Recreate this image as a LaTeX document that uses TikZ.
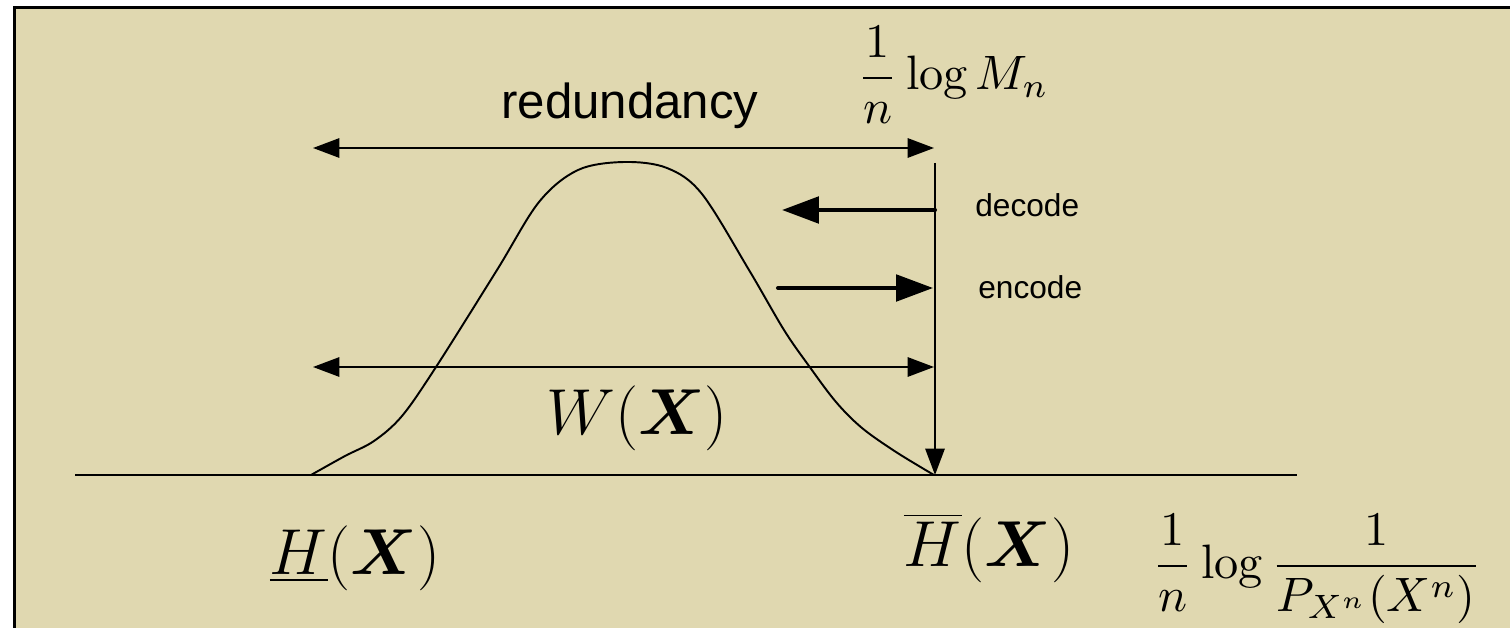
\RequirePackage{fix-cm}
\documentclass[tikz,border=0pt]{standalone}
\usepackage{amsmath,bm}
\usepackage{graphicx}
\usepackage{fontspec}
\newfontfamily\labelsans{Liberation Sans}
\usetikzlibrary{arrows.meta}
\definecolor{bgtan}{RGB}{224,216,176}
\tikzset{
    % Slide frame (only left and top edges show)
    framebox/.style={
        line width=1.5pt,
        black,
    },
    % Horizontal axis
    axisline/.style={
        line width=1.1pt,
        black,
    },
    % Density curve
    densityline/.style={
        line width=1.1pt,
        black,
        line join=round,
    },
    % Two-headed range arrow
    rangearrow/.style={
        {Triangle[length=15pt,width=11pt]}-{Triangle[length=15pt,width=11pt]},
        line width=1.1pt,
    },
    % Rate arrow (down to the axis)
    ratearrow/.style={
        -{Triangle[length=15pt,width=11pt]},
        line width=1.1pt,
    },
    % Encode / decode arrows
    codearrow/.style={
        -{Triangle[length=21pt,width=15pt]},
        line width=2.3pt,
        line cap=round,
    },
    % Sans word label
    wordlabel/.style={
        font=\labelsans\fontsize{28}{34}\selectfont,
        inner sep=0pt,
    },
    % Operation label
    oplabel/.style={
        font=\labelsans\fontsize{18}{22}\selectfont,
        inner sep=0pt,
        anchor=base west,
    },
    % Entropy labels
    entlabel/.style={
        font=\fontsize{37}{44}\selectfont,
        inner sep=0pt,
        anchor=base,
    },
    % Rate labels (set at 10pt, then blown up)
    ratelabel/.style={
        inner sep=0pt,
        anchor=base west,
    },
}
\newcommand{\ratemath}[1]{\scalebox{2.75}{$\displaystyle #1$}}

\begin{document}
\begin{tikzpicture}[x=0.02cm, y=-0.02cm]

\useasboundingbox (0,0) rectangle (1510,628);

% =========================================================================
% Background and frame
% =========================================================================
\fill[bgtan] (14,7) rectangle (1510,628);
\draw[framebox] (14.7,628) -- (14.7,7.3) -- (1510,7.3);

% =========================================================================
% Key points
% =========================================================================
\coordinate (axisL) at (75,475);
\coordinate (axisR) at (1297,475);
\coordinate (Hlow) at (311,475);
\coordinate (Hup) at (935,475);
\coordinate (rateTop) at (935,163);
\coordinate (redL) at (313,148);
\coordinate (redR) at (934,148);
\coordinate (widL) at (313,367);
\coordinate (widR) at (934,367);
\coordinate (decS) at (935,210);
\coordinate (decE) at (782,210);
\coordinate (encS) at (778,288);
\coordinate (encE) at (933,288);

% =========================================================================
% Axis and density curve
% =========================================================================
\draw[axisline] (axisL) -- (axisR);

\draw[densityline] plot[smooth, tension=0.55] coordinates {
    (311,475) (345,456) (374,441) (402,416) (436,367) (497,270)
    (539,202) (578,170) (624,162) (667,168) (702,194) (749,270)
    (784,330) (809,366) (836,402) (862,428) (896,452) (934,475)};

% =========================================================================
% Arrows
% =========================================================================
\draw[rangearrow] (redL) -- (redR);
\draw[rangearrow] (widL) -- (widR);
\draw[ratearrow] (rateTop) -- (Hup);

\draw[codearrow] (decS) -- (decE);
\draw[codearrow] (encS) -- (encE);

% =========================================================================
% Labels
% =========================================================================
\node[wordlabel] (red) at (630,106) {redundancy};
\node[oplabel] (dec) at (975,216) {decode};
\node[oplabel] (enc) at (978,298) {encode};

\node[ratelabel] (rate) at (857,90) {\ratemath{\frac{1}{n}\log M_n}};
\node[ratelabel] (info) at (1152,578) {\ratemath{\frac{1}{n}\log\frac{1}{P_{X^n}(X^n)}}};

\node[entlabel] (width) at (637,434) {$W(\bm{X})$};
\node[entlabel] (infH) at (355,574) {$\underline{H}(\bm{X})$};
\node[entlabel] (supH) at (989,566) {$\overline{H}(\bm{X})$};

\end{tikzpicture}
\end{document}
